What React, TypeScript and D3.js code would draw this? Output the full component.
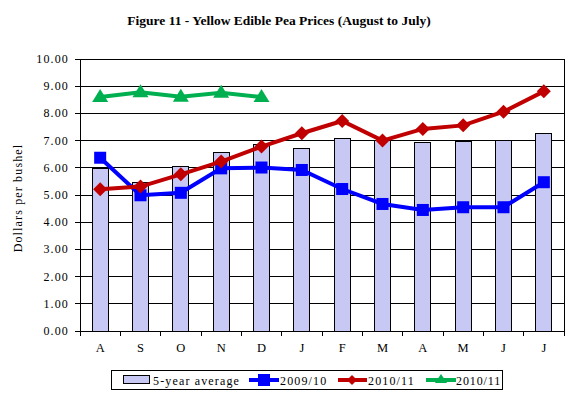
import React from 'react';
import * as d3 from 'd3';

const months = ['A', 'S', 'O', 'N', 'D', 'J', 'F', 'M', 'A', 'M', 'J', 'J'];
const fiveYearAvg = [5.98, 5.46, 6.05, 6.57, 6.86, 6.72, 7.08, 7.02, 6.94, 6.97, 7.01, 7.27];
const s0910 = [6.37, 4.99, 5.08, 5.98, 6.01, 5.92, 5.22, 4.67, 4.45, 4.55, 4.55, 5.47];
const s1011 = [5.21, 5.31, 5.76, 6.23, 6.78, 7.27, 7.72, 7.0, 7.43, 7.56, 8.06, 8.81];
const s1011b = [8.6, 8.78, 8.61, 8.76, 8.6];
const yTicks = d3.range(0, 10.01, 1);

const W = 580;
const H = 396;
const left = 80;
const right = 564;
const top = 59;
const bottom = 331;
const serif = '"Liberation Serif", "Times New Roman", serif';
const ls = 1.15;

const App: React.FC = () => {
  const x = d3.scaleBand<number>().domain(d3.range(months.length)).range([left, right]);
  const y = d3.scaleLinear().domain([0, 10]).range([bottom, top]);
  const cx = (i: number) => (x(i) as number) + x.bandwidth() / 2;
  const line = d3.line<number>().x((_, i) => cx(i)).y(d => y(d));
  const barW = 16;

  const square = (px: number, py: number, k: string) => (
    <rect key={k} x={px - 6} y={py - 6} width={12} height={12} fill="#0000FF" />
  );
  const diamond = (px: number, py: number, k: string) => (
    <path key={k} d={`M${px},${py - 7}L${px + 7},${py}L${px},${py + 7}L${px - 7},${py}Z`} fill="#C00000" />
  );
  const tri = (px: number, py: number, k: string) => (
    <path key={k} d={`M${px},${py - 8}L${px + 8},${py + 5}L${px - 8},${py + 5}Z`} fill="#00B050" />
  );

  return (
    <svg width={W} height={H} style={{ position: 'absolute', left: 0, top: 0, background: '#fff' }} fontFamily={serif}>
      <rect x={0} y={0} width={W} height={H} fill="#fff" />
      <text x={279} y={25} textAnchor="middle" fontSize={13.5} fontWeight="bold">
        Figure 11 - Yellow Edible Pea Prices (August to July)
      </text>

      {yTicks.map(t => (
        <g key={t}>
          <line x1={left - 5} x2={right} y1={y(t)} y2={y(t)} stroke="#000" strokeWidth={1} shapeRendering="crispEdges" />
          <text x={69} y={y(t) + 4} textAnchor="end" fontSize={12} letterSpacing={ls}>{t.toFixed(2)}</text>
        </g>
      ))}
      <line x1={left} x2={left} y1={top} y2={bottom} stroke="#000" shapeRendering="crispEdges" />
      <line x1={right} x2={right} y1={top} y2={bottom} stroke="#000" shapeRendering="crispEdges" />

      {fiveYearAvg.map((v, i) => (
        <rect key={i} x={cx(i) - barW / 2} y={y(v)} width={barW} height={bottom - y(v)}
          fill="#C8C8F4" stroke="#000" strokeWidth={1} shapeRendering="crispEdges" />
      ))}

      {d3.range(months.length + 1).map(i => {
        const px = left + i * x.step();
        return <line key={i} x1={px} x2={px} y1={bottom} y2={bottom + 5} stroke="#000" shapeRendering="crispEdges" />;
      })}
      {months.map((m, i) => (
        <text key={i} x={cx(i)} y={352} textAnchor="middle" fontSize={12.5}>{m}</text>
      ))}

      <path d={line(s0910) as string} fill="none" stroke="#0000FF" strokeWidth={4} />
      {s0910.map((v, i) => square(cx(i), y(v), 'b' + i))}
      <path d={line(s1011) as string} fill="none" stroke="#C00000" strokeWidth={4} />
      {s1011.map((v, i) => diamond(cx(i), y(v), 'r' + i))}
      <path d={line(s1011b) as string} fill="none" stroke="#00B050" strokeWidth={4} />
      {s1011b.map((v, i) => tri(cx(i), y(v), 'g' + i))}

      <text transform="translate(22,198) rotate(-90)" textAnchor="middle" fontSize={12} letterSpacing={ls}>Dollars per bushel</text>

      <rect x={111.5} y={370.5} width={391} height={19} fill="#fff" stroke="#000" strokeWidth={1} />
      <rect x={123.5} y={375.5} width={26} height={8} fill="#C8C8F4" stroke="#000" />
      <text x={153} y={385} fontSize={12} letterSpacing={ls}>5-year average</text>
      <line x1={249} x2={279} y1={380} y2={380} stroke="#0000FF" strokeWidth={4} />
      {square(264, 380, 'lb')}
      <text x={280} y={385} fontSize={12} letterSpacing={ls}>2009/10</text>
      <line x1={338} x2={367} y1={380} y2={380} stroke="#C00000" strokeWidth={4} />
      <path d="M352,375L357,380L352,385L347,380Z" fill="#C00000" />
      <text x={368} y={385} fontSize={12} letterSpacing={ls}>2010/11</text>
      <line x1={426} x2={456} y1={380} y2={380} stroke="#00B050" strokeWidth={4} />
      <path d="M441,374L447,383L435,383Z" fill="#00B050" />
      <text x={456} y={385} fontSize={12} letterSpacing={0.9}>2010/11</text>
    </svg>
  );
};

export default App;
